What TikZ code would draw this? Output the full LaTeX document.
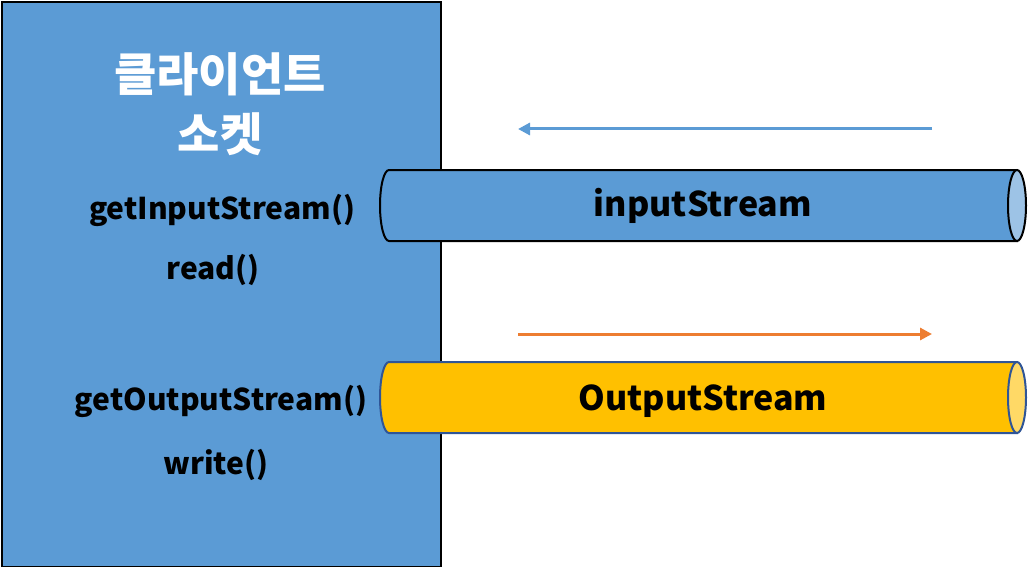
\documentclass[tikz,border=0pt]{standalone}
\usepackage{fontspec}
\setmainfont{Noto Sans CJK KR}
\usepackage{tikz}
\usetikzlibrary{arrows.meta}
\definecolor{clientblue}{HTML}{5B9BD5}
\definecolor{lightblue}{HTML}{9DC3E6}
\definecolor{streamgold}{HTML}{FFC000}
\definecolor{lightgold}{HTML}{FFD966}
\definecolor{darkedge}{HTML}{2F5597}
\definecolor{flowred}{HTML}{ED7D31}
\tikzstyle{panel} = [draw=black, line width=2pt, fill=clientblue, rectangle, inner sep=0pt]
\tikzstyle{method} = [font=\fontsize{30}{34}\selectfont\bfseries, inner sep=0pt]
\tikzstyle{title} = [font=\fontsize{46}{60}\selectfont\bfseries, text=white, align=center]
\tikzstyle{pipe} = [rectangle, minimum width=628pt, minimum height=71pt, inner sep=0pt, outer sep=0pt, font=\fontsize{34}{40}\selectfont\bfseries]
\tikzstyle{rim} = [line width=2pt]
\tikzstyle{flow} = [-{Triangle[length=12pt, width=12pt]}, line width=3pt]

\begin{document}
\begin{tikzpicture}[x=1pt, y=1pt]
    \useasboundingbox (0,0) rectangle (1028,-567);

    % Client socket.
    \node (client) [panel, anchor=north west, minimum width=439pt, minimum height=565pt] at (1,-1) {};
    \node (title) [title] at (220,-104) {클라이언트\\소켓};

    % Methods.
    \node (inGet) [method] at (222,-210) {getInputStream()};
    \node (inRead) [method] at (213,-270) {read()};
    \node (outGet) [method] at (221,-401) {getOutputStream()};
    \node (outWrite) [method] at (216,-465) {write()};

    % Streams.
    \node (input) [pipe] at (703,-205.5) {};
    \node (output) [pipe] at (703,-397.5) {};
    \foreach \s/\body/\face/\edge in {input/clientblue/lightblue/black, output/streamgold/lightgold/darkedge} {
        \draw [rim, draw=\edge, fill=\body] (\s.north west) -- (\s.north east) -- (\s.south east) -- (\s.south west)
            arc [start angle=270, end angle=90, x radius=9, y radius=35.5] -- cycle;
        \draw [rim, draw=\edge, fill=\face] (\s.east) ellipse [x radius=9, y radius=35.5];
    }
    \node (inputText) [pipe] at (input) {inputStream};
    \node (outputText) [pipe, yshift=-4pt] at (output) {OutputStream};

    % Arrows.
    \coordinate (inFrom) at (932,-129);
    \coordinate (inTo) at (518,-129);
    \coordinate (outFrom) at (518,-334);
    \coordinate (outTo) at (932,-334);
    \draw [flow, clientblue] (inFrom) -- (inTo);
    \draw [flow, flowred] (outFrom) -- (outTo);
\end{tikzpicture}
\end{document}
